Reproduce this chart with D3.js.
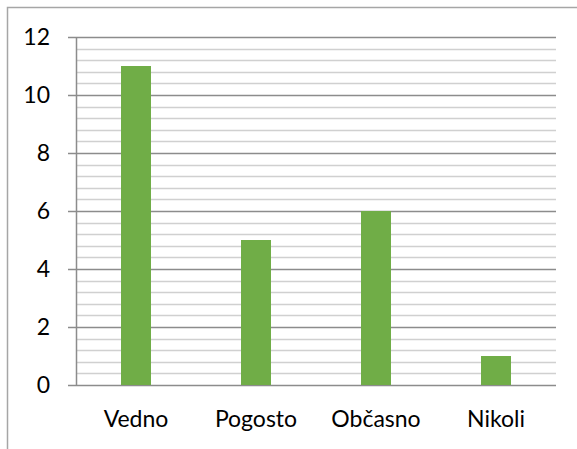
<!DOCTYPE html>
<html>
<head>
<meta charset="utf-8">
<script src="https://cdn.jsdelivr.net/npm/d3@7"></script>
<style>
  body { margin: 0; background: #fff; }
  svg { display: block; }
</style>
</head>
<body>
<svg id="chart"></svg>
<script>
const categories = ["Vedno", "Pogosto", "Občasno", "Nikoli"];
const values = [11, 5, 6, 1];
const yTicks = [0, 2, 4, 6, 8, 10, 12];

const width = 577;
const height = 449;
const margin = { top: 37, right: 21, bottom: 64, left: 76 };

const svg = d3.select("#chart")
  .attr("width", width)
  .attr("height", height);

// chart frame (runs off the right/bottom edge like the reference)
svg.append("rect")
  .attr("x", 7.5).attr("y", 7.5)
  .attr("width", 600).attr("height", 500)
  .attr("fill", "none")
  .attr("stroke", "#a6a6a6")
  .attr("stroke-width", 1.5);

const x = d3.scaleBand()
  .domain(categories)
  .range([margin.left, width - margin.right])
  .paddingInner(0.75)
  .paddingOuter(0.375);

const y = d3.scaleLinear()
  .domain([0, 12])
  .range([height - margin.bottom, margin.top]);

// minor gridlines every 0.4
const minor = d3.range(0, 12.001, 0.4).filter(v => Math.abs(v / 2 - Math.round(v / 2)) > 1e-6);
svg.append("g")
  .selectAll("line")
  .data(minor)
  .join("line")
  .attr("x1", margin.left).attr("x2", width - margin.right)
  .attr("y1", d => Math.round(y(d)) + 0.5).attr("y2", d => Math.round(y(d)) + 0.5)
  .attr("stroke", "#d0d0d0")
  .attr("stroke-width", 1.5);

// major gridlines
svg.append("g")
  .selectAll("line")
  .data(yTicks)
  .join("line")
  .attr("x1", margin.left - 8).attr("x2", width - margin.right)
  .attr("y1", d => Math.round(y(d)) + 0.5).attr("y2", d => Math.round(y(d)) + 0.5)
  .attr("stroke", "#8c8c8c")
  .attr("stroke-width", 1.5);

// y axis line
svg.append("line")
  .attr("x1", margin.left + 0.5).attr("x2", margin.left + 0.5)
  .attr("y1", y(12)).attr("y2", y(0))
  .attr("stroke", "#8c8c8c")
  .attr("stroke-width", 1.5);

// bars
svg.append("g")
  .selectAll("rect")
  .data(categories)
  .join("rect")
  .attr("x", d => x(d))
  .attr("y", (d, i) => y(values[i]))
  .attr("width", x.bandwidth())
  .attr("height", (d, i) => y(0) - y(values[i]))
  .attr("fill", "#70ad47");

// y tick labels
svg.append("g")
  .selectAll("text")
  .data(yTicks)
  .join("text")
  .attr("x", 50)
  .attr("y", d => y(d))
  .attr("dy", "0.35em")
  .attr("text-anchor", "end")
  .attr("font-family", "Lato, sans-serif")
  .attr("font-size", 23)
  .attr("fill", "#000")
  .text(d => d);

// category labels
svg.append("g")
  .selectAll("text")
  .data(categories)
  .join("text")
  .attr("x", d => x(d) + x.bandwidth() / 2)
  .attr("y", 427)
  .attr("text-anchor", "middle")
  .attr("font-family", "Lato, sans-serif")
  .attr("font-size", 23)
  .attr("fill", "#000")
  .text(d => d);
</script>
</body>
</html>
